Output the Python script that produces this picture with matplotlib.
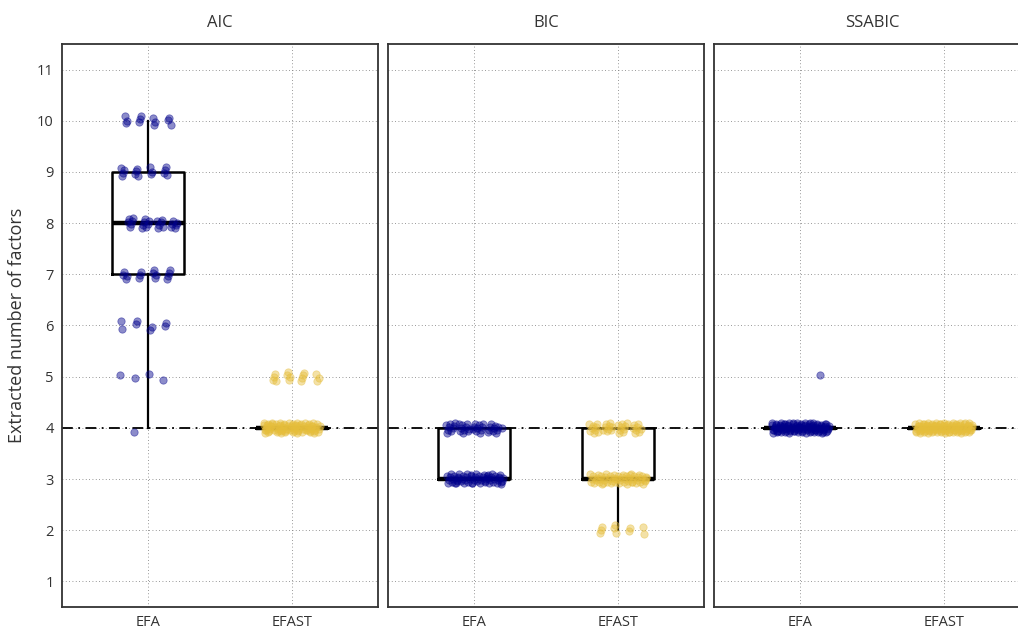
import numpy as np
import matplotlib
matplotlib.use("Agg")
import matplotlib.pyplot as plt

plt.rcParams['font.family'] = ['Open Sans', 'DejaVu Sans']

criteria = ['AIC', 'BIC', 'SSABIC']
methods = ['EFA', 'EFAST']
colors = {'EFA': '#00008B', 'EFAST': '#E6BE3C'}
true_factors = 4

# counts of replications per extracted number of factors: {value: count}
aic_efa = {4: 1, 5: 4, 6: 8, 7: 15, 8: 25, 9: 15, 10: 12}
aic_efast = {4: 85, 5: 15}
bic_efa = {3: 60, 4: 40}
bic_efast = {2: 10, 3: 55, 4: 35}
ssabic_efa = {4: 99, 5: 1}
ssabic_efast = {4: 100}

data = {
    ('AIC', 'EFA'): aic_efa, ('AIC', 'EFAST'): aic_efast,
    ('BIC', 'EFA'): bic_efa, ('BIC', 'EFAST'): bic_efast,
    ('SSABIC', 'EFA'): ssabic_efa, ('SSABIC', 'EFAST'): ssabic_efast,
}


def expand(counts):
    return np.concatenate([np.full(n, v, dtype=float) for v, n in counts.items()])


def spread(n, start):
    # deterministic 2-d spread (R2 sequence), only for the jitter display
    k = np.arange(start, start + n)
    u = (0.7548776662 * k + 0.5) % 1.0
    v = (0.5698402910 * k + 0.5) % 1.0
    return u - 0.5, v - 0.5


fig = plt.figure(figsize=(10.18, 6.33), dpi=100)
W, H = 1018, 633
lefts = [62, 388, 714]
axes = []
for i, crit in enumerate(criteria):
    ax = fig.add_axes([lefts[i] / W, (H - 607) / H, 316 / W, 563 / H])
    axes.append(ax)
    ax.set_xlim(0.4, 2.6)
    ax.set_ylim(0.5, 11.5)
    ax.set_xticks([1, 2])
    ax.set_xticklabels(methods)
    ax.set_yticks(range(1, 12))
    ax.grid(True, linestyle=(0, (1, 3)), color='#777777', linewidth=0.6)
    ax.set_axisbelow(True)
    for s in ax.spines.values():
        s.set_color('#333333')
        s.set_linewidth(1.3)
    ax.tick_params(length=0, labelsize=10.5, colors='#333333', pad=6)
    if i > 0:
        ax.set_yticklabels([])
    ax.set_title(crit, fontsize=12, color='#333333', pad=12)

    ax.axhline(true_factors, color='black', linewidth=1.3,
               linestyle=(0, (6, 3, 1, 3)), zorder=2)

    for j, m in enumerate(methods):
        vals = expand(data[(crit, m)])
        ax.boxplot(vals, positions=[j + 1], widths=0.5, whis=1.5,
                   showfliers=False, showcaps=False, manage_ticks=False,
                   boxprops=dict(color='black', linewidth=1.8),
                   whiskerprops=dict(color='black', linewidth=1.6),
                   medianprops=dict(color='black', linewidth=3.2),
                   zorder=3)
        n = len(vals)
        dx, dy = spread(n, 1 + 37 * i + 101 * j)
        xs = j + 1 + dx * 0.4
        ys = vals + dy * 0.2
        ax.scatter(xs, ys, s=28, color=colors[m], alpha=0.45,
                   linewidths=0.6, edgecolors=colors[m], zorder=4)

axes[0].set_ylabel('Extracted number of factors', fontsize=13, color='#333333', labelpad=8)

fig.savefig('out.png', dpi=100)
